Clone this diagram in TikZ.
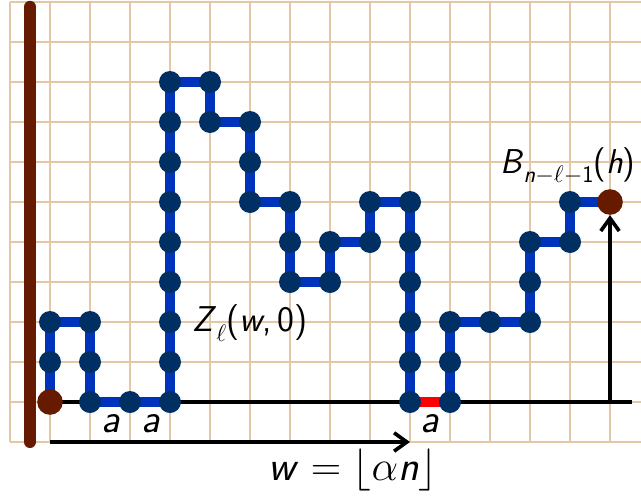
\documentclass[tikz,border=0pt]{standalone}
\usepackage{fix-cm}
\usetikzlibrary{arrows.meta}
\definecolor{gridc}{RGB}{226,200,164}
\definecolor{pathblue}{RGB}{0,51,187}
\definecolor{dotblue}{RGB}{0,47,100}
\definecolor{brownc}{RGB}{102,26,0}
\newcommand\lowsub[1]{\raisebox{-0.28em}{\fontsize{17}{19}\selectfont #1}}
\newcommand\vsl[1]{\textsl{#1}}
\tikzset{
  gridline/.style={draw=gridc, line width=1.1pt},
  walk/.style={draw=pathblue, line width=7pt, line join=round},
  redseg/.style={draw=red, line width=7pt},
  dot/.style={circle, fill=dotblue, minimum size=0.55cm, inner sep=0pt},
  enddot/.style={circle, fill=brownc, minimum size=0.64cm, inner sep=0pt},
  axis/.style={draw=black, line width=2.6pt},
  arr/.style={axis, -{Straight Barb[length=3.2mm,width=4.6mm]}},
  brownbar/.style={draw=brownc, line width=0.3cm, line cap=round},
  lbl/.style={font=\fontsize{25.5}{30}\selectfont\sffamily, inner sep=0pt},
  blbl/.style={font=\fontsize{24.5}{29}\selectfont\sffamily, inner sep=0pt},
  wlbl/.style={font=\fontsize{30}{36}\selectfont\sffamily, inner sep=0pt},
  albl/.style={font=\fontsize{29}{34}\selectfont\sffamily, inner sep=0pt},
}
\begin{document}
\begin{tikzpicture}
\useasboundingbox (-1.25,-2.35) rectangle (14.775,10.05);
\draw[gridline] (-1,-1) grid (14.775,10);
\draw[brownbar] (-0.5,9.88) -- (-0.5,-1);
\foreach \p [count=\i from 0] in {{0,0},{0,1},{0,2},{1,2},{1,1},{1,0},{2,0},{3,0},{3,1},{3,2},{3,3},{3,4},{3,5},{3,6},{3,7},{3,8},{4,8},{4,7},{5,7},{5,6},{5,5},{6,5},{6,4},{6,3},{7,3},{7,4},{8,4},{8,5},{9,5},{9,4},{9,3},{9,2},{9,1},{9,0},{10,0},{10,1},{10,2},{11,2},{12,2},{12,3},{12,4},{13,4},{13,5},{14,5}}
  {\coordinate (v\i) at (\p);}
\coordinate (baseend) at (14.55,0);
\coordinate (foot) at (14,0);
\coordinate (w0) at (0,-1);
\coordinate (w1) at (9,-1);
\draw[axis] (v0) -- (baseend);
\draw[arr] (w0) -- (w1);
\draw[walk] (v0) \foreach \j in {1,...,33}{ -- (v\j)};
\draw[walk] (v34) \foreach \j in {35,...,43}{ -- (v\j)};
\draw[redseg] (v33) -- (v34);
\foreach \i in {1,...,42} {\node[dot] (d\i) at (v\i) {};}
\node[enddot] (start) at (v0) {};
\node[enddot] (end) at (v43) {};
\draw[arr] (foot) -- (end);
\node[albl] (a1) at (1.52,-0.55) {\vsl{a}};
\node[albl] (a2) at (2.52,-0.55) {\vsl{a}};
\node[albl] (a3) at (9.5,-0.55) {\vsl{a}};
\node[lbl] (zl) at (5,1.97) {\vsl{Z}\lowsub{$\ell$}(\vsl{w},\,0)};
\node[blbl] (bl) at (12.95,5.9) {\vsl{B}\lowsub{\vsl{n}$-\ell-$1}(\vsl{h})};
\node[wlbl] (wl) at (7.58,-1.7) {\vsl{w}\;$=$\;$\lfloor\alpha$\vsl{n}$\rfloor$};
\end{tikzpicture}
\end{document}
